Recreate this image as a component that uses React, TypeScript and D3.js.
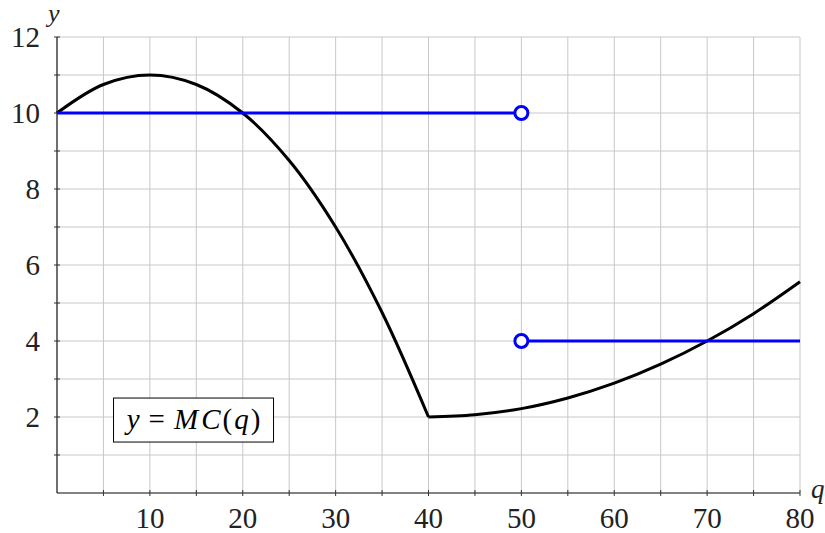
import React from 'react'
import * as d3 from 'd3'

// MC curve
const qFalling = [0, 5, 10, 15, 20, 25, 30, 35, 40]
const mcFalling = [10, 10.75, 11, 10.75, 10, 8.75, 7, 4.75, 2]
const qRising = [40, 45, 50, 55, 60, 65, 70, 75, 80]
const mcRising = [2, 2.06, 2.22, 2.5, 2.89, 3.39, 4, 4.72, 5.56]

// blue step pieces
const stepStarts = [0, 50]
const stepEnds = [50, 80]
const stepValues = [10, 4]
const openAt = [[50, 10], [50, 4]]

const xTicks = [10, 20, 30, 40, 50, 60, 70, 80]
const yTicks = [2, 4, 6, 8, 10, 12]
const xGrid = d3.range(0, 81, 5)
const yGrid = d3.range(0, 13, 1)

const W = 825
const H = 533
const m = { left: 57, right: 25, top: 37, bottom: 40 }
const font = '"Liberation Serif", "DejaVu Serif", serif'

export default function App() {
    let x = d3.scaleLinear().domain([0, 80]).range([m.left, W - m.right])
    let y = d3.scaleLinear().domain([0, 12]).range([H - m.bottom, m.top])

    let line = d3.line<number>()
        .x(d => x(d[0]))
        .y(d => y(d[1]))
        .curve(d3.curveCatmullRom)

    let left = qFalling.map((q, i) => [q, mcFalling[i]])
    let right = qRising.map((q, i) => [q, mcRising[i]])

    return (
        <svg width={W} height={H} style={{ position: 'absolute', left: 0, top: 0, background: '#fff' }}>
            {/* grid */}
            {xGrid.map(v => (
                <line key={'gx' + v} x1={x(v)} x2={x(v)} y1={y(0)} y2={y(12)} stroke="#c8c8c8" strokeWidth={1} />
            ))}
            {yGrid.map(v => (
                <line key={'gy' + v} x1={x(0)} x2={x(80)} y1={y(v)} y2={y(v)} stroke="#c8c8c8" strokeWidth={1} />
            ))}

            {/* axes */}
            <line x1={x(0)} x2={x(80)} y1={y(0)} y2={y(0)} stroke="#222" strokeWidth={1.2} />
            <line x1={x(0)} x2={x(0)} y1={y(0)} y2={y(12)} stroke="#222" strokeWidth={1.2} />
            {xGrid.filter(v => v > 0).map(v => (
                <line key={'tx' + v} x1={x(v)} x2={x(v)} y1={y(0) - 3} y2={y(0) + 3} stroke="#333" strokeWidth={1} />
            ))}
            {yGrid.filter(v => v > 0).map(v => (
                <line key={'ty' + v} x1={x(0) - 3} x2={x(0) + 3} y1={y(v)} y2={y(v)} stroke="#333" strokeWidth={1} />
            ))}
            {xTicks.map(v => (
                <text key={'lx' + v} x={x(v)} y={y(0) + 35} textAnchor="middle" fontFamily={font} fontSize={29} fill="#222">{v}</text>
            ))}
            {yTicks.map(v => (
                <text key={'ly' + v} x={x(0) - 17} y={y(v) + 10} textAnchor="end" fontFamily={font} fontSize={29} fill="#222">{v}</text>
            ))}
            <text x={x(0) - 9} y={y(12) - 15} fontFamily={font} fontStyle="italic" fontSize={26} fill="#222">y</text>
            <text x={x(80) + 11} y={y(0) + 5} fontFamily={font} fontStyle="italic" fontSize={27} fill="#222">q</text>

            {/* MC curve */}
            <path d={(line(left as any) || '') + (line(right as any) || '')} fill="none" stroke="#000" strokeWidth={3} strokeLinejoin="round" />

            {/* blue pieces */}
            {stepValues.map((v, i) => (
                <line key={'s' + i} x1={x(stepStarts[i])} x2={x(stepEnds[i])} y1={y(v)} y2={y(v)} stroke="#0000ff" strokeWidth={3} />
            ))}
            {openAt.map((p, i) => (
                <circle key={'c' + i} cx={x(p[0])} cy={y(p[1])} r={6.5} fill="#fff" stroke="#0000ff" strokeWidth={3} />
            ))}

            {/* label box */}
            <g transform={`translate(${x(14.7)}, ${y(1.92)})`}>
                <rect x={-80} y={-22} width={160} height={44} fill="#fff" stroke="#000" strokeWidth={1} />
                <text x={0} y={9} textAnchor="middle" fontFamily={font} fontSize={29} fill="#000">
                    <tspan fontStyle="italic">y</tspan>
                    <tspan dx={9}>=</tspan>
                    <tspan dx={9} fontStyle="italic" letterSpacing={3}>MC</tspan>
                    <tspan dx={-1}>(</tspan>
                    <tspan dx={2} fontStyle="italic">q</tspan>
                    <tspan dx={2}>)</tspan>
                </text>
            </g>
        </svg>
    )
}
